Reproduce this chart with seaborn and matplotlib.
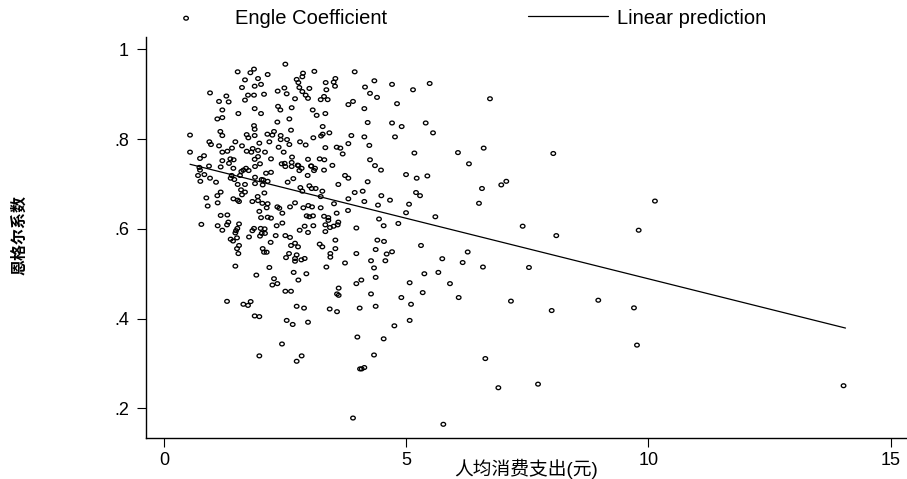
import matplotlib
matplotlib.use('Agg')
import matplotlib.pyplot as plt
import pandas as pd
import seaborn as sns
from matplotlib.markers import MarkerStyle
from matplotlib.transforms import Affine2D

# values
expense = [
    2.505, 1.521, 1.858, 1.783, 2.140, 2.870, 3.104, 3.937, 1.672, 1.941, 2.856, 2.739, 3.538, 3.503, 3.338,
    4.343, 5.485, 4.708, 2.003, 1.872, 1.610, 2.774, 2.794, 2.485, 2.347, 3.001, 3.352, 3.531, 4.150, 5.141,
    0.950, 1.287, 1.734, 1.858, 2.065, 2.533, 2.856, 2.925, 4.253, 1.136, 1.335, 1.672, 2.705, 2.973, 3.304,
    3.235, 3.379, 4.398, 3.902, 3.806, 4.811, 1.204, 1.872, 2.003, 2.354, 2.402, 2.636, 3.070, 3.152, 3.331,
    4.136, 1.101, 1.204, 1.535, 2.588, 2.340, 4.205, 4.708, 4.907, 5.403, 3.276, 1.858, 1.872, 2.622, 1.163,
    1.204, 2.134, 2.271, 2.237, 2.409, 0.537, 1.707, 1.872, 1.741, 2.540, 2.409, 3.083, 3.242, 3.276, 3.414,
    3.868, 4.136, 4.769, 5.554, 0.936, 0.970, 1.136, 1.473, 1.610, 1.968, 2.175, 2.367, 2.588, 2.808, 2.925,
    3.331, 3.565, 3.641, 3.806, 4.239, 0.537, 0.826, 0.743, 1.204, 1.308, 1.404, 1.831, 1.941, 1.707, 1.803,
    2.085, 2.471, 3.689, 5.169, 1.204, 1.370, 1.438, 1.342, 2.209, 1.872, 1.941, 2.643, 2.973, 3.214, 3.310,
    4.253, 1.982, 2.429, 2.491, 2.636, 2.774, 3.042, 3.476, 4.356, 0.929,
    0.730, 1.170, 0.743, 1.432, 1.693, 1.638, 1.748, 1.879, 2.505, 2.636, 2.760, 2.842, 2.794, 3.035, 3.118,
    3.097, 3.304, 4.480, 0.702, 0.833, 0.950, 0.750, 1.074, 1.397, 1.569, 1.376, 1.452, 1.597, 2.106, 2.209,
    1.879, 2.966, 3.737, 3.806, 4.997, 5.217, 5.437, 4.205, 1.521, 1.672, 1.879, 2.051, 2.017, 2.140, 2.037,
    2.553, 2.670, 3.599, 3.001, 3.049, 3.131, 3.269, 2.815, 2.856, 1.590, 1.672, 1.610, 1.170, 1.101, 0.874,
    1.108, 0.902, 1.432, 1.521, 1.549, 1.934, 2.072, 1.824, 1.941, 2.030, 2.140, 2.120, 3.235, 3.937, 4.102,
    5.203, 5.286, 4.487, 3.806, 4.136, 4.666, 4.418, 5.059, 3.510, 2.340, 2.381, 2.602, 2.705, 2.877, 2.980,
    3.056, 3.235, 3.799, 4.997, 5.602, 1.968, 2.443, 1.170, 1.308, 2.003, 2.140, 2.209, 2.946, 3.001, 3.076,
    3.304, 3.565, 3.393, 3.393, 4.439, 4.838, 4.535, 0.771, 1.108, 1.328, 1.301, 1.549, 1.514, 1.487, 1.204,
    2.443, 2.326, 2.904, 3.083, 3.331, 3.427, 3.503, 3.599, 3.586, 3.971, 1.858, 1.824, 1.996, 2.078, 2.017,
    2.085, 1.982, 1.755, 1.473, 1.507, 1.376, 1.425, 2.801, 2.973, 3.331, 2.505, 2.602, 2.306, 2.202, 3.538,
    4.405, 4.542, 5.306, 2.705, 2.622, 2.767, 1.549, 1.507, 1.535, 2.037, 2.065, 2.120, 3.214, 3.269, 3.538,
    3.434, 3.434, 3.971, 4.370, 4.597, 4.708, 2.581, 2.739, 2.519, 2.705, 2.705, 2.835, 2.904, 4.274, 4.570,
    3.737, 3.352, 1.473, 2.175, 4.336, 2.677, 2.939, 1.906, 5.375, 5.664, 2.271, 2.340, 2.237, 2.774, 4.074,
    3.971, 4.370, 5.072, 3.606, 2.505, 2.622, 3.572, 3.606, 4.274, 5.341, 4.900, 5.100, 1.301, 1.638, 1.734,
    1.789, 2.739, 2.891, 3.421, 3.572, 4.040, 4.370, 1.872, 1.968, 2.533, 2.657, 2.973, 5.072, 4.756,
    3.992, 2.436, 4.535, 1.968, 4.336, 2.842, 2.739, 6.634, 4.136, 4.081, 4.047, 6.903, 7.722, 3.902, 5.767,
    6.730, 6.069, 6.600, 6.296, 8.037, 6.565, 6.963, 7.067, 6.503, 7.405, 10.136, 9.800, 8.099, 6.270, 5.745,
    6.166, 6.585, 7.535, 5.904, 6.084, 7.163, 8.004, 8.966, 9.703, 9.765, 14.03,
]
engle = [
    .967, .950, .956, .948, .944, .947, .951, .950, .932, .935, .939, .933, .935, .927, .926,
    .930, .924, .922, .922, .918, .915, .926, .915, .914, .907, .913, .910, .918, .916, .910,
    .903, .896, .898, .898, .900, .901, .906, .898, .902, .884, .883, .887, .890, .891, .895,
    .888, .888, .893, .884, .877, .879, .865, .868, .857, .873, .865, .870, .865, .853, .857,
    .868, .845, .848, .857, .845, .838, .837, .836, .828, .836, .828, .830, .822, .820, .817,
    .808, .811, .817, .809, .808, .809, .810, .808, .803, .799, .799, .803, .807, .811, .814,
    .808, .805, .805, .814, .794, .788, .785, .794, .785, .791, .794, .782, .788, .794, .787,
    .781, .782, .780, .790, .786, .771, .763, .757, .771, .773, .780, .779, .775, .773, .771,
    .771, .771, .767, .769, .752, .756, .754, .746, .756, .755, .761, .760, .755, .756, .754,
    .754, .745, .745, .746, .748, .741, .740, .7415, .741, .740,
    .737, .738, .731, .735, .735, .731, .730, .739, .739, .739, .742, .735, .730, .740, .735,
    .730, .731, .731, .719, .721, .713, .706, .704, .719, .719, .713, .710, .728, .724, .726,
    .715, .719, .719, .713, .721, .713, .718, .705, .699, .699, .701, .709, .710, .706, .698,
    .704, .712, .699, .696, .690, .690, .684, .692, .684, .687, .682, .676, .682, .674, .669,
    .658, .651, .667, .664, .661, .672, .680, .661, .663, .657, .656, .647, .672, .681, .684,
    .681, .674, .674, .667, .661, .664, .653, .655, .656, .649, .646, .649, .658, .647, .652,
    .649, .647, .641, .636, .627, .639, .635, .630, .631, .625, .626, .624, .629, .627, .629,
    .628, .635, .625, .619, .622, .612, .607, .610, .607, .615, .609, .611, .601, .596, .597,
    .613, .607, .606, .607, .609, .603, .606, .615, .609, .602, .601, .596, .601, .600, .590,
    .590, .584, .582, .591, .580, .577, .573, .597, .592, .594, .585, .581, .585, .570, .575,
    .575, .572, .563, .568, .563, .560, .563, .556, .545, .556, .548, .548, .566, .560, .556,
    .545, .537, .545, .554, .544, .549, .545, .542, .536, .534, .528, .531, .534, .529, .529,
    .524, .515, .517, .514, .513, .503, .500, .497, .500, .503, .489, .478, .475, .486, .486,
    .478, .492, .480, .468, .461, .461, .455, .452, .455, .458, .447, .432, .4385, .432, .4295,
    .438, .4275, .4235, .4215, .4155, .4235, .4275, .406, .4045, .396, .387, .392, .396, .384,
    .359, .3435, .355, .317, .319, .317, .305, .311, .291, .288, .288, .246, .254, .1785, .1645,
    .890, .770, .780, .745, .768, .690, .698, .706, .657, .606, .662, .597, .585, .5485, .5335,
    .525, .515, .514, .478, .447, .439, .418, .441, .424, .341, .2505,
]
line_x = [0.537, 14.07]
line_y = [0.744, 0.379]

x_ticks = [0, 5, 10, 15]
y_ticks = [.2, .4, .6, .8, 1]
y_tick_labels = [".2", ".4", ".6", ".8", "1"]

df = pd.DataFrame({"expense": expense, "engle": engle})
line_df = pd.DataFrame({"x": line_x, "y": line_y})

sns.set_theme(style="ticks")
plt.rcParams['font.family'] = ['Liberation Sans', 'Noto Sans CJK SC', 'DejaVu Sans']

fig = plt.figure(figsize=(9.07, 4.79), dpi=100)
ax = fig.add_axes([145.7 / 907, 41 / 479, 761.3 / 907, 401 / 479])

# los circulos del original son un poco mas anchos que altos
oval = MarkerStyle('o', transform=Affine2D().scale(1.2, 1.0))
sns.scatterplot(data=df, x="expense", y="engle", ax=ax, marker=oval, s=7.5,
                facecolor="none", edgecolor="black", linewidth=0.95, label="Engle Coefficient")
sns.lineplot(data=line_df, x="x", y="y", ax=ax, color="black", linewidth=0.9,
             errorbar=None, label="Linear prediction")

ax.set_xlim(-0.378, 15.34)
ax.set_ylim(0.134, 1.0276)
ax.set_xticks(x_ticks)
ax.set_yticks(y_ticks)
ax.set_yticklabels(y_tick_labels)
ax.tick_params(axis='both', length=6.5, width=0.8, color="black", labelsize=13, labelcolor="black")
ax.tick_params(axis='x', pad=3.5)
ax.tick_params(axis='y', pad=5.5)
sns.despine(ax=ax)
for side in ["left", "bottom"]:
    ax.spines[side].set_linewidth(1.0)
    ax.spines[side].set_color("black")

ax.set_xlabel("人均消费支出(元)", fontsize=13.5, labelpad=-7.5, color="black")
ax.set_ylabel("恩格尔系数", fontsize=11.5, color="black", fontweight="bold")
ax.yaxis.set_label_coords(-0.156, 0.505)

ax.legend(loc="center left", bbox_to_anchor=(146 / 907, 1 - 18 / 479), bbox_transform=fig.transFigure,
          frameon=False, ncol=2, fontsize=14.5, borderpad=0, borderaxespad=0, scatterpoints=1,
          handlelength=3.98, handletextpad=0.45, columnspacing=6.96, labelcolor="black")

fig.savefig("out.png", dpi=100)
plt.close(fig)
